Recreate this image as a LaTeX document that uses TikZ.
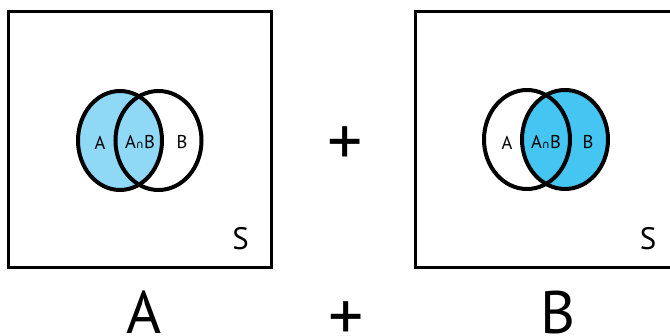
\documentclass[tikz,border=0pt]{standalone}
\usepackage{fontspec}
\setmainfont{PT Sans}
\newfontfamily\symfont{DejaVu Sans}
\usepackage{xcolor}
\definecolor{skylite}{RGB}{143,216,246}
\definecolor{skydeep}{RGB}{69,198,242}
\tikzset{
  frame/.style={draw,line width=3pt},
  ring/.style={draw,line width=4pt},
  lbl/.style={inner sep=0pt,font=\fontsize{18.5}{18.5}\selectfont},
  spc/.style={inner sep=0pt,font=\fontsize{31}{31}\selectfont},
  big/.style={inner sep=0pt,font=\fontsize{60}{60}\selectfont},
  op/.style={inner sep=0pt,font=\fontsize{70}{70}\selectfont},
}
\newcommand{\capAB}{A{\symfont\fontsize{11}{11}\selectfont ∩}B}

\begin{document}
\begin{tikzpicture}[x=1pt,y=-1pt]
\useasboundingbox (0,0) rectangle (670,336);
\clip (0,0) rectangle (670,336);
% left: event A shaded
\fill[skylite] (120,140.5) ellipse [x radius=42,y radius=49.5];
\draw[ring] (120,140.5) ellipse [x radius=42,y radius=49.5];
\draw[ring] (158.5,140.5) ellipse [x radius=43,y radius=49.5];
\draw[frame] (8,12) rectangle (271,268);
\node[lbl] (la) at (100,142.5) {A};
\node[lbl] (lab) at (140,142.5) {\capAB};
\node[lbl] (lb) at (182,142.5) {B};
\node[spc] (ls) at (240.5,239) {S};
% right: event B shaded
\fill[skydeep] (565,139.5) ellipse [x radius=43,y radius=49.5];
\draw[ring] (527,139.5) ellipse [x radius=43,y radius=49.5];
\draw[ring] (565,139.5) ellipse [x radius=43,y radius=49.5];
\draw[frame] (415.5,12) rectangle (690,268);
\node[lbl] (ra) at (507,142.5) {A};
\node[lbl] (rab) at (546,142.5) {\capAB};
\node[lbl] (rb) at (588,142.5) {B};
\node[spc] (rs) at (648,239) {S};
% signs and captions
\node[op] (plus) at (345,146) {+};
\node[op] (plusb) at (346,321) {+};
\node[big,anchor=base] (capa) at (144,334) {A};
\node[big,anchor=base] (capb) at (558,334) {B};
\end{tikzpicture}
\end{document}
